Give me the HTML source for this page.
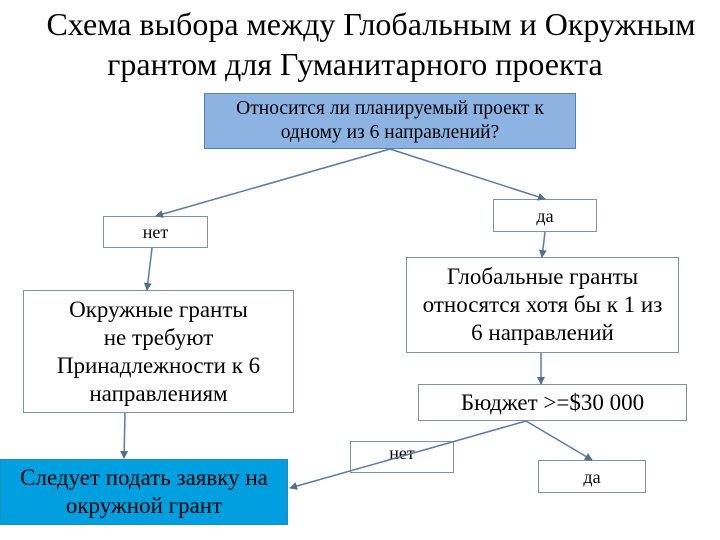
<!DOCTYPE html>
<html><head><meta charset="utf-8"><style>
body{margin:0;width:720px;height:540px;background:#fff;position:relative;overflow:hidden;font-family:"Liberation Serif",serif;}
.b{position:absolute;box-sizing:border-box;border:1px solid #7f93a8;background:#fff;display:flex;align-items:center;justify-content:center;text-align:center;color:#000;line-height:28px;white-space:nowrap;}
.t{position:absolute;width:720px;text-align:center;font-size:32px;white-space:nowrap;}
</style></head><body>
<div class="t" style="top:6px;left:11px;">Схема выбора между Глобальным и Окружным</div>
<div class="t" style="top:46px;left:-5px;">грантом для Гуманитарного проекта</div>
<div class="b" style="left:204px;top:93px;width:372px;height:56px;background:#8db3e2;border-color:#4f81bd;font-size:19.5px;line-height:24px;">Относится ли планируемый проект к<br>одному из 6 направлений?</div>
<div class="b" style="left:103px;top:216px;width:105px;height:32px;font-size:18px;">нет</div>
<div class="b" style="left:493px;top:199px;width:104px;height:33px;font-size:18px;">да</div>
<div class="b" style="left:406px;top:257px;width:273px;height:96px;font-size:23px;">Глобальные гранты<br>относятся хотя бы к 1 из<br>6 направлений</div>
<div class="b" style="left:23px;top:290px;width:271px;height:123px;font-size:23px;">Окружные гранты<br>не требуют<br>Принадлежности к 6<br>направлениям</div>
<div class="b" style="left:418px;top:384px;width:269px;height:37px;font-size:23px;">Бюджет &gt;=$30 000</div>
<div class="b" style="left:350px;top:441px;width:104px;height:32px;font-size:18px;align-items:flex-start;line-height:22px;">нет</div>
<div class="b" style="left:538px;top:460px;width:108px;height:33px;font-size:18px;">да</div>
<div class="b" style="left:0;top:459px;width:288px;height:66px;background:#00a0e0;border-color:#1f8bc0;font-size:23px;">Следует подать заявку на<br>окружной грант</div>
<svg width="720" height="540" style="position:absolute;left:0;top:0" viewBox="0 0 720 540">
<defs><marker id="a" markerWidth="8" markerHeight="8" refX="7" refY="4" orient="auto" markerUnits="userSpaceOnUse"><path d="M0,0L8,4L0,8z" fill="#4f6f95"/></marker></defs>
<g stroke="#5b7ba3" stroke-width="1.5" fill="none" marker-end="url(#a)">
<line x1="390" y1="149" x2="156" y2="216"/>
<line x1="390" y1="149" x2="545" y2="199"/>
<line x1="152" y1="248" x2="147" y2="290"/>
<line x1="545" y1="232" x2="542" y2="257"/>
<line x1="541" y1="353" x2="541" y2="384"/>
<line x1="125" y1="413" x2="124" y2="458"/>
<line x1="526" y1="421" x2="290" y2="488"/>
<line x1="526" y1="421" x2="592" y2="460"/>
</g></svg>
</body></html>
